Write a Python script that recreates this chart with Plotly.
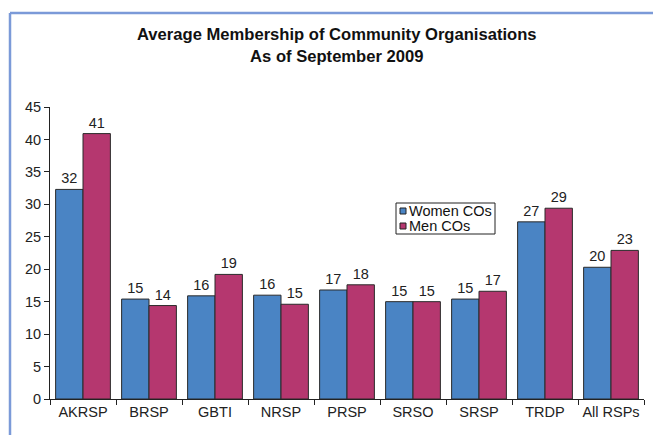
import plotly.graph_objects as go

categories = ['AKRSP', 'BRSP', 'GBTI', 'NRSP', 'PRSP', 'SRSO', 'SRSP', 'TRDP', 'All RSPs']
women_cos = [32.3, 15.4, 15.9, 16.0, 16.8, 15.0, 15.4, 27.3, 20.3]
men_cos = [40.9, 14.4, 19.2, 14.6, 17.6, 15.0, 16.6, 29.4, 22.9]
series_names = ['Women COs', 'Men COs']
series_colors = ['#4a84c4', '#b5376f']

font = 'Liberation Sans, Arial, sans-serif'

# page body has an 8px margin, so the figure is 8px smaller than the window
W, H = 653, 427
L, R, T, B = 42, 17, 99, 36
pw, ph = W - L - R, H - T - B


def px(x):
    return (x - L) / pw


def py(y):
    return (H - B - y) / ph


fig = go.Figure()
for name, vals, col in zip(series_names, [women_cos, men_cos], series_colors):
    fig.add_trace(go.Bar(
        x=categories, y=vals, name=name, showlegend=False,
        marker=dict(color=col, line=dict(color='#2a2a2a', width=1)),
        texttemplate='%{y:.0f}', textposition='outside',
        textfont=dict(size=14.5, color='#222'), cliponaxis=False))

border = dict(color='#7b9ad8', width=2.5)
shapes = [
    # outer frame (bottom edge runs off the page)
    dict(type='line', xref='paper', yref='paper', x0=px(2), x1=px(649),
         y0=py(5), y1=py(5), line=border),
    dict(type='line', xref='paper', yref='paper', x0=px(2), x1=px(2),
         y0=py(5), y1=py(H), line=border),
    dict(type='line', xref='paper', yref='paper', x0=px(649), x1=px(649),
         y0=py(5), y1=py(H), line=border),
    # legend box
    dict(type='rect', xref='paper', yref='paper',
         x0=px(388), x1=px(487), y0=py(226), y1=py(195),
         line=dict(color='#222', width=1), fillcolor='white'),
]
annotations = [
    dict(text='<b>Average Membership of Community Organisations<br>As of September 2009</b>',
         xref='paper', yref='paper', x=px(329), y=py(37), yanchor='middle',
         showarrow=False, font=dict(size=16.6, color='#111')),
]
for i, (name, col) in enumerate(zip(series_names, series_colors)):
    yc = 203 + i * 15
    shapes.append(dict(type='rect', xref='paper', yref='paper',
                       x0=px(392), x1=px(398), y0=py(yc + 3), y1=py(yc - 3),
                       line=dict(color='#222', width=1), fillcolor=col))
    annotations.append(dict(text=name, xref='paper', yref='paper',
                            x=px(399), y=py(yc), xanchor='left', yanchor='middle',
                            showarrow=False, font=dict(size=14.5, color='#111')))

fig.update_layout(
    width=W, height=H,
    margin=dict(l=L, r=R, t=T, b=B),
    paper_bgcolor='white', plot_bgcolor='white',
    font=dict(family=font, size=14.5, color='#222'),
    barmode='group', bargap=0.17, bargroupgap=0,
    xaxis=dict(showline=True, linecolor='#222', linewidth=1, tickangle=0,
               ticks='outside', tickson='boundaries', ticklen=5,
               tickcolor='#222', showgrid=False, automargin=False),
    yaxis=dict(range=[0, 45], dtick=5, showline=True, linecolor='#222',
               linewidth=1, ticks='outside', ticklen=5, tickcolor='#222',
               showgrid=False, zeroline=False, automargin=False),
    shapes=shapes,
    annotations=annotations,
)

fig.write_html('out.html')
